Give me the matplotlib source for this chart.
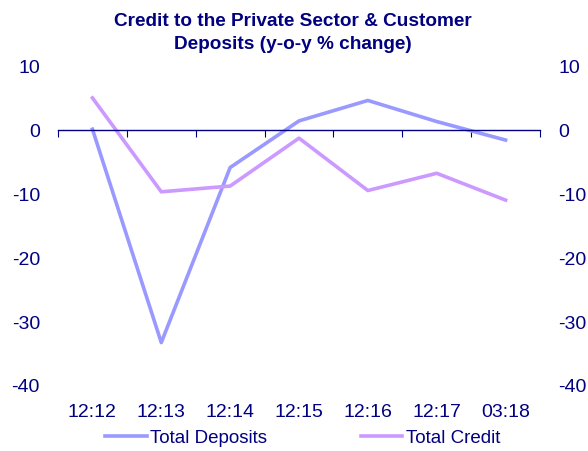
import matplotlib.pyplot as plt

plt.rcParams['font.family'] = ['Liberation Sans', 'DejaVu Sans']
plt.rcParams['axes.unicode_minus'] = False

navy = '#000080'
periods = ['12:12', '12:13', '12:14', '12:15', '12:16', '12:17', '03:18']
deposits = [0.2, -33.2, -5.8, 1.5, 4.7, 1.4, -1.5]
credit = [5.1, -9.6, -8.7, -1.2, -9.4, -6.7, -10.9]

W, H = 588, 451
fig = plt.figure(figsize=(W / 100, H / 100), dpi=100)
top, bottom = 66.6, 386
ax = fig.add_axes([58 / W, 1 - bottom / H, (540 - 58) / W, (bottom - top) / H])

x = list(range(len(periods)))
ax.plot(x, deposits, color='#9999FF', lw=2.6, label='Total Deposits')
ax.plot(x, credit, color='#CC99FF', lw=2.6, label='Total Credit')

ax.set_xlim(-0.5, len(periods) - 0.5)
ax.set_ylim(-40, 10)
ax.set_yticks([10, 0, -10, -20, -30, -40])
ax.tick_params(axis='y', length=0, labelsize=14, labelcolor=navy, pad=13,
               left=False, right=False, labelleft=True, labelright=True)
for s in ['top', 'left', 'right']:
    ax.spines[s].set_visible(False)
ax.spines['bottom'].set_position(('data', 0))
ax.spines['bottom'].set_color(navy)
ax.spines['bottom'].set_linewidth(1.0)
ax.set_xticks([i - 0.5 for i in range(len(periods) + 1)])
ax.tick_params(axis='x', direction='out', length=5, color=navy, labelbottom=False)

# category labels below the plot area
sec = ax.secondary_xaxis(0)
sec.set_xticks(x)
sec.set_xticklabels(periods)
sec.tick_params(axis='x', length=0, labelsize=14, labelcolor=navy, pad=13)
sec.spines['bottom'].set_visible(False)

fig.text(293 / W, 1 - 33 / H, 'Credit to the Private Sector & Customer\nDeposits (y-o-y % change)',
         ha='center', va='center', fontsize=13.7, fontweight='bold', color=navy,
         linespacing=1.5)

leg = fig.legend(loc='center', bbox_to_anchor=(303 / W, 1 - 438 / H), ncol=2,
                 frameon=False, fontsize=13.5, handlelength=2.2, handletextpad=0.2,
                 columnspacing=5.0)
for t in leg.get_texts():
    t.set_color(navy)

fig.savefig('out.png', dpi=100)
